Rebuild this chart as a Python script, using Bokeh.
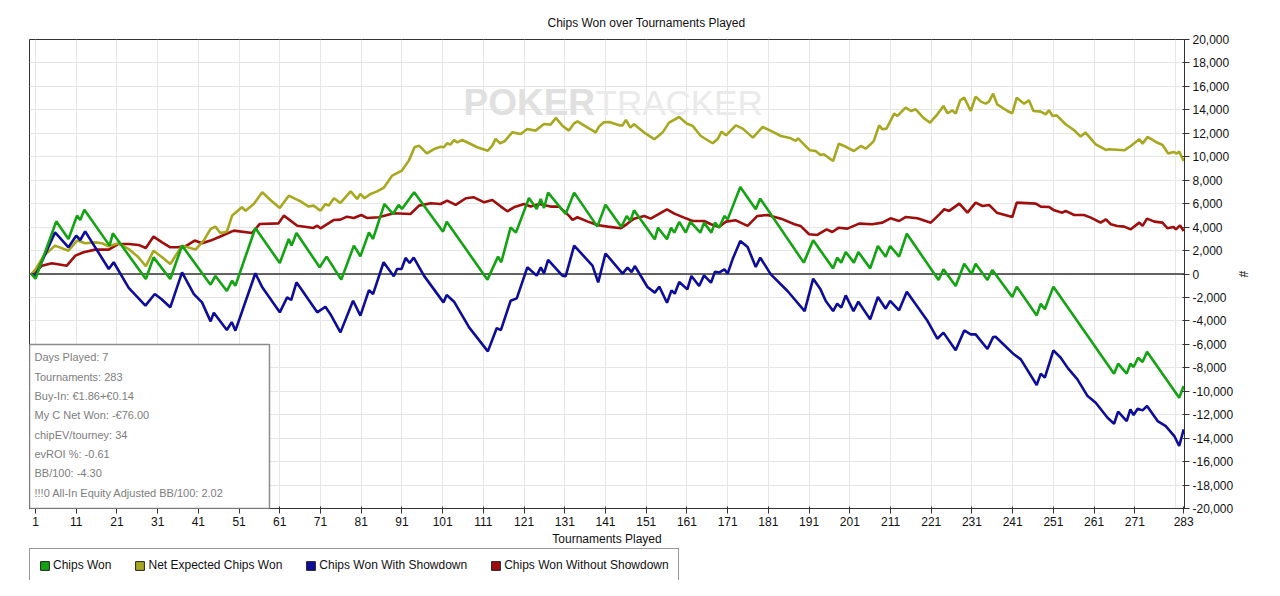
from bokeh.plotting import figure
from bokeh.layouts import column
from bokeh.models import (Range1d, FixedTicker, NumeralTickFormatter, Span, Label,
                          BoxAnnotation, Legend, LegendItem)
from bokeh.embed import file_html
from bokeh.resources import INLINE

FONT = "Liberation Sans"

# --- data (tournament no., chips) ---
won_t = [0, 1, 6.1, 9.1, 11.2, 12, 13, 19.2, 20, 28.1,
         30, 34.1, 37, 44, 45.2, 48, 49.3, 50.1, 55, 61,
         63.2, 63.9, 65.1, 70.8, 72.5, 76.1, 79.2, 80.8, 82.9, 83.9,
         86.7, 88.8, 90.2, 91, 94, 101.1, 102, 112, 114.6, 115.4,
         117.7, 119, 122.2, 124.1, 125.1, 125.9, 126.9, 131.2, 133.3, 139,
         141, 144.9, 146.2, 147.1, 148, 153.1, 153.9, 156.1, 157.1, 157.9,
         159.1, 160.7, 161.8, 164.3, 165.2, 167, 167.9, 168.9, 170.2, 171,
         174.1, 177.9, 179, 189.7, 192, 196.9, 197.9, 198.9, 200, 202,
         203.1, 206, 207.9, 209.8, 210.9, 213.1, 215, 222.8, 224, 227,
         229.1, 230.9, 231.9, 234.8, 236, 240.9, 242, 246.9, 247.9, 248.9,
         251, 265.9, 266.9, 269, 269.9, 270.7, 271.8, 272.9, 274, 281.9,
         283]
won_v = [0, -400, 4490, 2990, 4980, 4600, 5490, 2420, 3470, -430,
         1420, -430, 2420, -910, -170, -1450, -570, -1000, 3920, 940,
         2990, 2420, 3500, 570, 1480, -480, 2420, 1510, 3550, 2990,
         5970, 5120, 5890, 5550, 6970, 3610, 4460, -480, 1480, 1000,
         3980, 3530, 6480, 5550, 6400, 5630, 6940, 5120, 6940, 4040,
         5900, 4010, 4950, 4520, 5430, 2960, 3950, 2960, 3950, 3530,
         4440, 3530, 4460, 3530, 4380, 3530, 4380, 3950, 4950, 4660,
         7420, 5520, 6430, 970, 2870, 480, 1390, 970, 1880, 970,
         1880, 480, 2390, 1480, 2390, 1480, 3440, -510, 400, -1020,
         880, 0, 880, -510, 340, -1960, -1080, -3530, -2530, -3010,
         -1080, -8500, -7650, -8500, -7650, -7930, -7140, -7510, -6630, -10550,
         -9550]

sd_t = [0, 1, 5.8, 9.1, 11, 12, 13.2, 19, 20.2, 23.9,
        28, 30.3, 31.9, 34.1, 37, 39.9, 41.9, 44, 44.8, 48,
        49.2, 50.1, 55, 56.7, 61, 62.8, 63.8, 65.1, 70.2, 72.2,
        73.4, 75.9, 79, 80.8, 82.9, 83.9, 86.5, 89, 89.8, 90.9,
        91.9, 92.9, 93.9, 96.4, 101.2, 102, 103.8, 107.5, 112.1, 114.3,
        115.3, 117.7, 119.2, 121.8, 124.1, 125.1, 125.9, 126.9, 130.4, 131.2,
        133.3, 137.8, 139.2, 141, 145.2, 146.4, 147.4, 148.2, 151.3, 153.1,
        154.2, 156.1, 157.2, 158, 159.1, 161.1, 162.1, 164, 165.2, 166.9,
        167.9, 168.9, 170.2, 171, 172.2, 174.1, 175.9, 177.9, 179, 181.6,
        185.7, 189.9, 192, 193.8, 195.1, 196.9, 197.9, 198.9, 200, 201.9,
        203.1, 206, 207.9, 209.8, 210.9, 213.1, 215, 220.1, 222.5, 224,
        227, 229.1, 230.7, 231.9, 234.8, 236.2, 236.8, 241.3, 243, 246.9,
        247.9, 248.9, 251, 252.8, 254.6, 256.9, 259.4, 261.4, 264.3, 265.9,
        266.9, 269, 269.9, 270.7, 271.7, 272.9, 274, 276.6, 278.6, 280.7,
        281.9, 283]
sd_v = [0, -150, 3550, 2280, 3270, 2900, 3640, 430, 1000, -1190,
        -2700, -1710, -2130, -2840, 140, -1710, -2420, -4040, -3300, -4780,
        -4100, -4830, 60, -1140, -3270, -1990, -2220, -710, -3270, -2790,
        -3410, -4980, -2280, -3550, -1370, -1710, 1000, -200, 430, 430,
        1370, 940, 1400, -140, -2420, -1790, -2360, -4550, -6600, -4610,
        -4780, -2280, -2080, 570, -140, 570, 60, 1200, -140, -200,
        2420, 710, -710, 1750, 30, 540, 170, 680, -1110, -1590,
        -1080, -2450, -1400, -1680, -680, -1310, -170, -1030, -120, -740,
        200, 120, 400, 30, 1250, 2820, 2300, 600, 1400, -30,
        -1450, -3160, -400, -1310, -2300, -3160, -2530, -2870, -1820, -3160,
        -2360, -3870, -1960, -2960, -2300, -3100, -1510, -4010, -5520, -5000,
        -6510, -4810, -5150, -5150, -6400, -5380, -5350, -6850, -7280, -9470,
        -8500, -8840, -6510, -7140, -8050, -8990, -10410, -10980, -12260, -12770,
        -11740, -12540, -11540, -12030, -11490, -11630, -11260, -12540, -12970, -13820,
        -14670, -13250]

nsd_t = [0, 1, 2.6, 5, 8.7, 10.8, 12.8, 15.7, 19, 21.4,
         23.9, 26.3, 28.1, 30, 32.1, 34.1, 35.8, 37.8, 40.1, 41.9,
         44, 46.4, 49.7, 54.2, 56.1, 60.7, 62, 65.3, 69.3, 70.2,
         71, 74.3, 75.9, 77.5, 79.2, 81, 82.4, 85.3, 89, 93.1,
         95.2, 98.1, 100.5, 102.1, 104.2, 106.7, 108.7, 111.2, 113.2, 115.3,
         116.9, 118.5, 121, 122.6, 124.7, 127.5, 129.6, 132, 132.9, 134.1,
         136.5, 139, 141.5, 144.8, 146.4, 148, 150.5, 152.1, 156.1, 157.9,
         160.3, 162.4, 165.2, 166.9, 168.9, 170.6, 173, 175.9, 178.3, 180.8,
         184.1, 187.4, 188.9, 191, 193, 195.3, 196.7, 198.3, 200.4, 203.3,
         206.5, 209, 211, 213.1, 214.7, 217.6, 220.9, 223, 224.2, 225.4,
         227.9, 229.9, 231.9, 233.6, 235.2, 237.1, 240.9, 242, 246.7, 247.9,
         249.9, 251.2, 253.2, 254, 256.1, 258.5, 260.2, 262.6, 263.9, 265.1,
         266.7, 268.4, 270, 272.1, 272.9, 274, 275.8, 277.8, 279, 280.5,
         281.1, 282.1, 283]
nsd_v = [0, 150, 710, 910, 710, 1570, 1850, 2080, 2080, 2560,
         2560, 2480, 2220, 3190, 2700, 2280, 2280, 2360, 2850, 2620,
         2850, 3200, 3700, 3500, 4270, 4320, 4980, 4120, 3930, 4120,
         3900, 4610, 4640, 4890, 4780, 5030, 4780, 4840, 5180, 5120,
         5830, 6030, 5970, 6260, 5890, 6460, 6540, 6110, 6310, 5750,
         5350, 5690, 5970, 5750, 5970, 5750, 5750, 4980, 4610, 4840,
         4490, 4180, 4040, 3900, 4300, 4720, 4950, 4720, 5520, 5150,
         4810, 4520, 4520, 4240, 4010, 4470, 4580, 4100, 4950, 5030,
         4720, 4240, 4100, 3390, 3330, 3810, 3580, 3950, 3870, 4300,
         4240, 4380, 4750, 4520, 4860, 4750, 4380, 5090, 5520, 5380,
         6000, 5230, 6090, 5800, 5890, 5230, 4860, 6090, 6000, 5750,
         5720, 5430, 5230, 5380, 5030, 5030, 4810, 4380, 4660, 4240,
         4100, 4040, 3810, 4380, 4100, 4720, 4470, 4380, 3900, 4010,
         3810, 4150, 3670]

ev_t = [0, 1, 3, 5.8, 9.1, 11.2, 13.2, 15.7, 17.3, 19,
        21.4, 23.9, 26.3, 28.1, 30, 32.1, 34.1, 37, 40.3, 42.3,
        44, 45.2, 46.4, 48, 49.3, 51.7, 52.6, 54.6, 56.7, 58.7,
        61, 63.2, 66.1, 68.1, 69.3, 71, 72.2, 73, 74.3, 75.9,
        78.4, 80, 80.8, 81.8, 83.3, 84.9, 86.5, 88.6, 91, 92.7,
        94.1, 95.2, 97.1, 98.9, 100.5, 101.3, 102.1, 102.9, 103.8, 104.6,
        105.8, 107.5, 109.5, 112.1, 113.2, 114, 115.1, 116.2, 118.1, 120.2,
        121.8, 123.8, 125.9, 127.5, 128.8, 130.4, 132, 133.3, 134.1, 136.5,
        138.6, 139.4, 140.6, 141.9, 144.4, 145.2, 146, 147.1, 148, 150.5,
        153, 155, 156.6, 159.1, 161, 162.4, 164.4, 167.3, 168.5, 169.5,
        170.6, 173, 174.7, 177.2, 179.6, 181.6, 184.1, 186.5, 187.7, 188.3,
        191.2, 192.6, 193.8, 194.6, 196.9, 198.3, 199.6, 202, 203.7, 204.9,
        206.1, 206.9, 208.2, 209, 210, 211.9, 212.7, 214.7, 216, 217.2,
        219.2, 220.7, 222.5, 224, 225, 226.2, 227, 228.1, 229.1, 230.7,
        231.9, 233.2, 234.4, 235.2, 236.2, 237.2, 239.7, 240.9, 242, 243.8,
        245, 246.1, 247.9, 249.1, 249.9, 250.8, 251.8, 254, 256.1, 257.7,
        258.9, 261.4, 263.9, 264.7, 268.4, 270, 272.1, 272.9, 274.1, 276.2,
        277.8, 279.2, 280.5, 281.3, 281.9, 283]
ev_v = [0, 400, 1540, 2420, 1990, 2850, 2620, 2700, 2620, 2360,
        2620, 2130, 1420, 660, 1990, 1420, 850, 2420, 2080, 2850,
        3840, 4040, 3500, 3610, 4980, 5690, 5400, 5970, 6970, 6310,
        5630, 6680, 6200, 5750, 5830, 5400, 5970, 5830, 6460, 6060,
        7050, 6400, 6830, 6460, 6830, 7050, 7340, 8390, 8820, 9670,
        10810, 10950, 10290, 10660, 10860, 10810, 11150, 11030, 11430, 11230,
        11430, 11150, 10810, 10520, 10950, 11520, 11150, 11320, 12080, 11940,
        12370, 12230, 12800, 12740, 13310, 12650, 12230, 12850, 13020, 12510,
        12080, 12570, 12940, 12970, 12680, 12680, 13140, 12480, 12770, 12060,
        11490, 12060, 12910, 13390, 12820, 12630, 11770, 11150, 11490, 12140,
        11830, 12680, 12400, 11630, 12540, 12200, 11770, 11570, 11350, 11570,
        10550, 10490, 10150, 10210, 9640, 11120, 10920, 10490, 10920, 10690,
        11060, 11350, 12680, 12340, 12400, 13680, 13480, 14190, 13900, 14050,
        13280, 12910, 13620, 14330, 13710, 13960, 13680, 14810, 15040, 13900,
        15130, 14700, 14530, 14700, 15380, 14470, 13900, 13710, 15040, 14530,
        14810, 13900, 13850, 13620, 13960, 13480, 13530, 12770, 12260, 11720,
        12060, 11060, 10580, 10640, 10550, 10920, 11490, 11120, 11690, 11260,
        11000, 10270, 10410, 10270, 10440, 9640]

series_names = ["Chips Won", "Net Expected Chips Won",
                "Chips Won With Showdown", "Chips Won Without Showdown"]
series_colors = ["#13a313", "#a8a820", "#0d0d99", "#a00d0d"]

x_ticks = [1, 11, 21, 31, 41, 51, 61, 71, 81, 91, 101, 111, 121, 131, 141,
           151, 161, 171, 181, 191, 201, 211, 221, 231, 241, 251, 261, 271, 283]
x_grid = [1, 11, 21, 31, 41, 51, 61, 71, 81, 91, 101, 111, 121, 131, 141,
          151, 161, 171, 181, 191, 201, 211, 221, 231, 241, 251, 261, 271, 281]
y_ticks = [-20000, -18000, -16000, -14000, -12000, -10000, -8000, -6000, -4000,
           -2000, 0, 2000, 4000, 6000, 8000, 10000, 12000, 14000, 16000,
           18000, 20000]

stats_lines = ["Days Played: 7", "Tournaments: 283", "Buy-In: €1.86+€0.14",
               "My C Net Won: -€76.00", "chipEV/tourney: 34", "evROI %: -0.61",
               "BB/100: -4.30", "!!!0 All-In Equity Adjusted BB/100: 2.02"]

p = figure(width=1264, height=548, output_backend="svg", toolbar_location=None,
           x_range=Range1d(-0.47, 283.2), y_range=Range1d(-20000, 20000),
           y_axis_location="right",
           min_border_left=29, min_border_top=39, min_border_right=80, min_border_bottom=40)
p.background_fill_color = "white"
p.border_fill_color = "white"
p.outline_line_color = "#333333"
p.outline_line_width = 1

p.title.text = "Chips Won over Tournaments Played"
p.title.align = "left"
p.title.offset = 518
p.title.standoff = 19
p.title.text_font = FONT
p.title.text_font_size = "12px"
p.title.text_font_style = "normal"
p.title.text_color = "#111111"

# grids
p.xgrid.ticker = FixedTicker(ticks=x_grid)
p.ygrid.ticker = FixedTicker(ticks=y_ticks)
p.xgrid.grid_line_color = "#e6e6e6"
p.ygrid.grid_line_color = "#e6e6e6"

# watermark
p.add_layout(Label(x=434, y=406, x_units="screen", y_units="screen", text="POKER",
                   text_font=FONT, text_font_style="bold", text_baseline="alphabetic",
                   text_font_size="37px", text_color="#e0e0e0", level="underlay"))
p.add_layout(Label(x=566, y=406, x_units="screen", y_units="screen", text="TRACKER",
                   text_font=FONT, text_font_size="35px", text_baseline="alphabetic",
                   text_color="#eaeaea", level="underlay"))

p.add_layout(Span(location=0, dimension="width", line_color="#333333",
                  line_width=1.5, level="underlay"))

# lines
p.line(nsd_t, nsd_v, line_color=series_colors[3], line_width=2.6)
p.line(ev_t, ev_v, line_color=series_colors[1], line_width=2.6)
p.line(sd_t, sd_v, line_color=series_colors[2], line_width=2.6)
p.line(won_t, won_v, line_color=series_colors[0], line_width=2.6)

# axes
p.xaxis.ticker = FixedTicker(ticks=x_ticks)
p.xaxis.axis_label = "Tournaments Played"
p.yaxis.ticker = FixedTicker(ticks=y_ticks)
p.yaxis.formatter = NumeralTickFormatter(format="0,0")
p.yaxis.axis_label = "#"
for ax in (p.xaxis, p.yaxis):
    ax.axis_line_color = "#333333"
    ax.major_tick_line_color = "#333333"
    ax.minor_tick_line_color = None
    ax.major_tick_in = 2
    ax.major_tick_out = 5
    ax.major_label_standoff = 3
    ax.major_label_text_font = FONT
    ax.major_label_text_font_size = "12px"
    ax.major_label_text_color = "#111111"
    ax.axis_label_text_font = FONT
    ax.axis_label_text_font_style = "normal"
    ax.axis_label_text_font_size = "12px"
    ax.axis_label_text_color = "#111111"
p.xaxis.axis_label_standoff = 3
p.yaxis.axis_label_standoff = 0

# stats box
p.add_layout(BoxAnnotation(left=0, right=240, bottom=0, top=164,
                           left_units="screen", right_units="screen",
                           bottom_units="screen", top_units="screen",
                           fill_color="white", fill_alpha=1,
                           line_color="#8c8c8c", line_width=1.5, line_alpha=1))
stat_y = [152, 132, 113, 94, 74, 55, 36, 16]
for txt, yy in zip(stats_lines, stat_y):
    p.add_layout(Label(x=5, y=yy, x_units="screen", y_units="screen", text=txt,
                       text_baseline="middle", text_font=FONT,
                       text_font_size="11px", text_color="#7d7d7d"))

# legend strip under the chart, square swatches (hidden proxy renderers)
lg = figure(width=1264, height=32, output_backend="svg", toolbar_location=None,
            x_axis_type=None, y_axis_type=None,
            min_border_left=29, min_border_right=0, min_border_top=0, min_border_bottom=0)
lg.outline_line_color = None
lg.background_fill_color = "white"
lg.border_fill_color = "white"
items = []
for name, col, xs, ys in zip(series_names, series_colors,
                             [won_t, ev_t, sd_t, nsd_t], [won_v, ev_v, sd_v, nsd_v]):
    r = lg.quad(left=xs[:1], right=xs[1:2], bottom=ys[:1], top=ys[1:2],
                fill_color=col, line_color="#222222", line_width=1, visible=False)
    items.append(LegendItem(label=name, renderers=[r]))
legend = Legend(items=items, location="top_left", orientation="horizontal",
                padding=9, spacing=23, margin=0, label_standoff=3,
                glyph_width=11, glyph_height=11, label_height=12,
                label_text_font=FONT, label_text_font_size="12px",
                label_text_color="#111111",
                border_line_color="#333333", border_line_width=1.5,
                background_fill_color="white", background_fill_alpha=1)
lg.add_layout(legend)

layout = column(p, lg, spacing=0)
open("out.html", "w", encoding="utf-8").write(file_html(layout, INLINE))
